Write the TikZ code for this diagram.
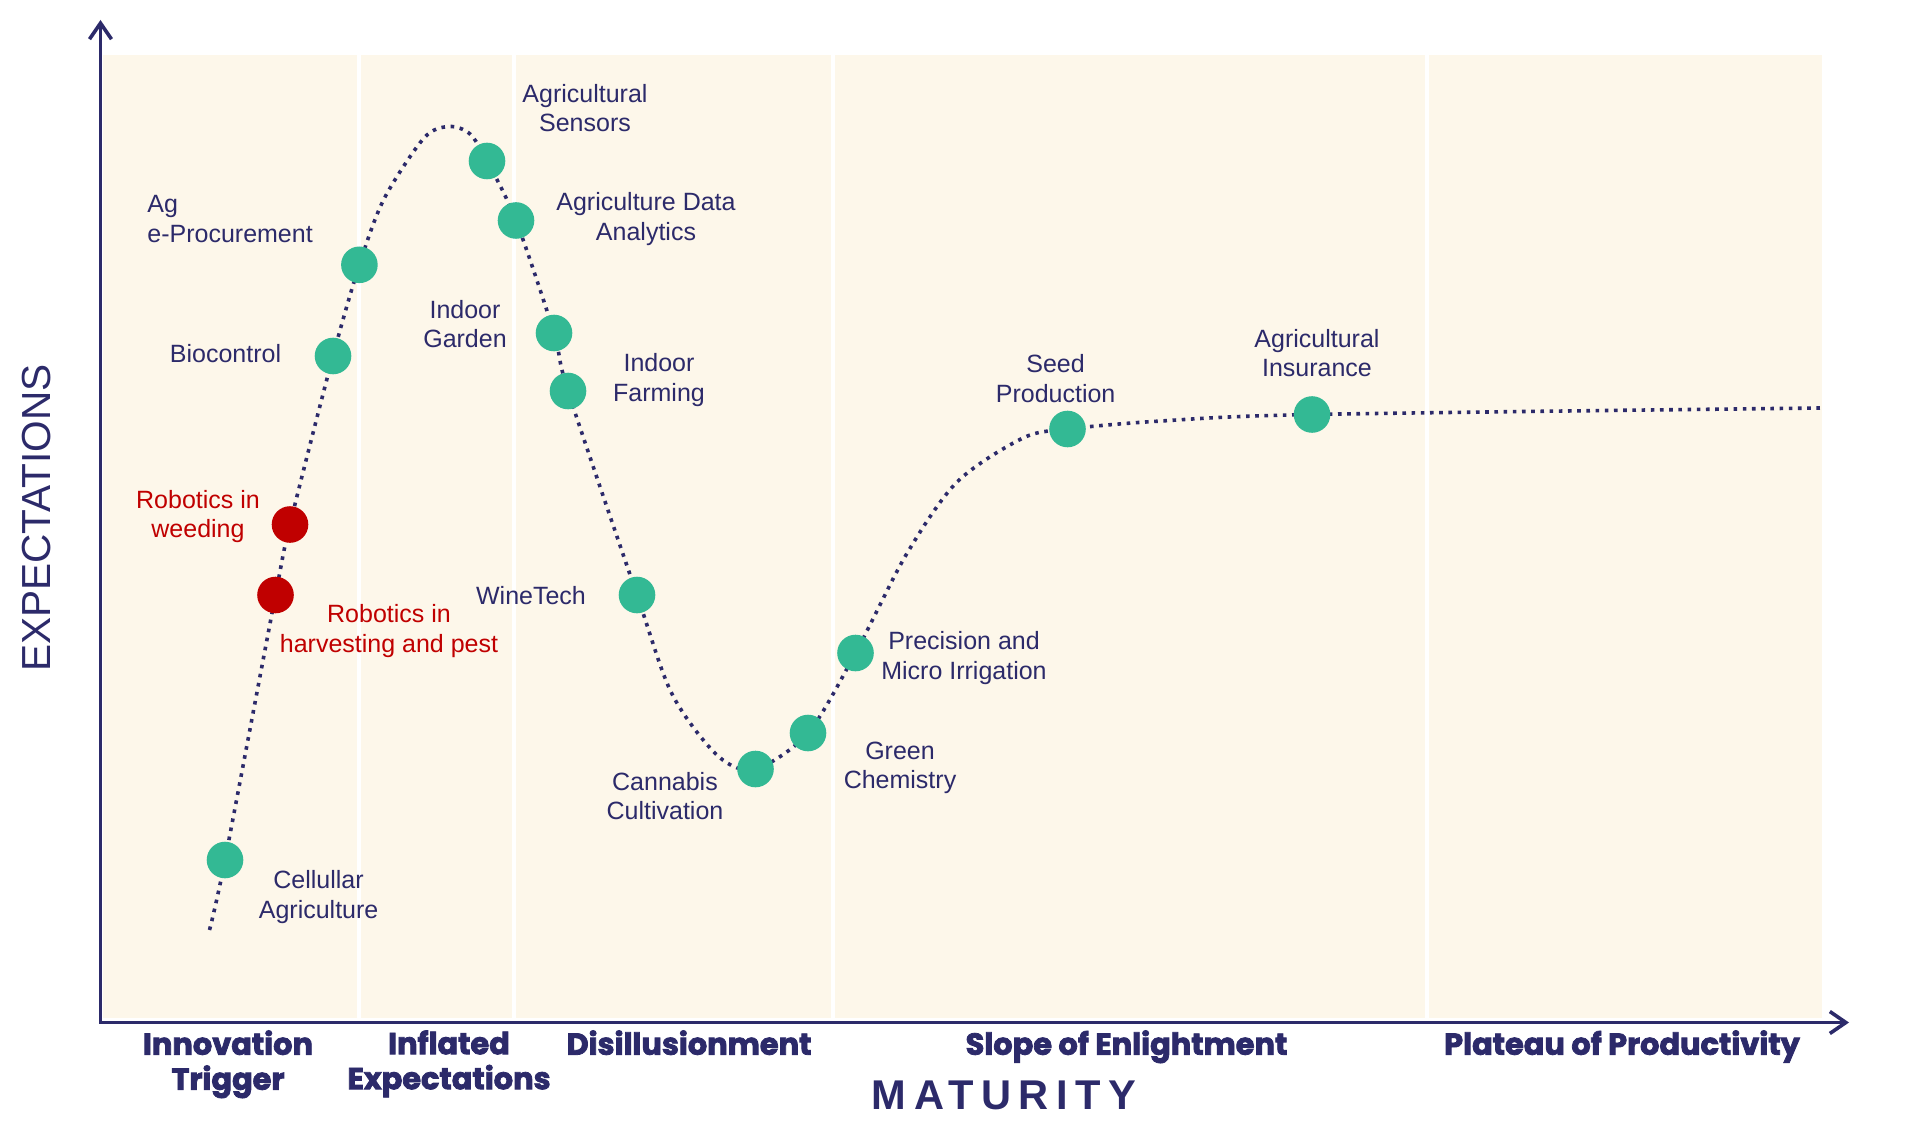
\documentclass[tikz,border=0pt]{standalone}
\usepackage{fontspec}
\setmainfont{Liberation Sans}
\newfontfamily\phasefont{Poppins}[BoldFeatures={FakeBold=2.6}]
\newfontfamily\spacedfont{Liberation Sans}[LetterSpace=18]
\usetikzlibrary{arrows.meta}

\begin{document}
\begin{tikzpicture}[x=0.5pt, y=-0.5pt,
    tag/.style={align=center, inner sep=0pt, text=navy, font=\fontsize{12.5}{14.7}\selectfont},
    redtag/.style={tag, text=hotred},
    phase/.style={anchor=north, inner sep=0pt, align=center, text=navy, font=\phasefont\bfseries\fontsize{15.2}{17.5}\selectfont},
    hype/.style={draw=navy, line width=1.8pt, dash pattern=on 1.8pt off 2.8pt},
    axis/.style={draw=navy, line width=1.6pt, line join=miter, {Straight Barb[length=8pt, width=11pt, line width=1.8pt]}-{Straight Barb[length=8pt, width=11pt, line width=1.8pt]}},
  ]

\definecolor{navy}{RGB}{44, 42, 106}
\definecolor{techgreen}{RGB}{51, 185, 148}
\definecolor{hotred}{RGB}{192, 0, 0}
\definecolor{paper}{RGB}{253, 247, 234}

\useasboundingbox (0,0) rectangle (1920,1144);

%phase bands
\fill[paper] (103,55) rectangle (1822,1018);
\foreach \x in {359, 514, 833, 1427}
{
	\draw[white, line width=2pt] (\x,55) -- (\x,1018);
}

%axes
\coordinate (ytop) at (100.5,20);
\coordinate (origin) at (100.5,1022.5);
\coordinate (xend) at (1849,1022.5);
\draw[axis] (ytop) -- (origin) -- (xend);

%technologies on the curve
\foreach \n/\x/\y in {cell/225/860, harv/275.5/595, weed/290/524.5, bio/333/356, agep/359.4/264.8,
	sens/487/161, data/516/220.5, garden/554/333, farm/568/391, wine/637/595,
	cann/755.5/769, green/808/733, prec/855.5/653, seed/1067.5/429, insur/1312/414.5}
{
	\coordinate (\n) at (\x,\y);
}
\coordinate (hypestart) at (209.5,930);
\coordinate (hypeend) at (1820,408);

%hype curve
\draw[hype] plot[smooth, tension=0.5] coordinates {(hypestart) (cell) (harv) (weed) (bio) (agep)
	(384,199) (424,138) (449,126.5) (470,134) (sens) (data) (garden) (farm) (wine)
	(672,694) (718,756) (cann) (green) (prec) (906,555) (957,482) (1023,438) (seed)
	(1161,421) (insur) (hypeend)};

\foreach \n in {cell, bio, agep, sens, data, garden, farm, wine, cann, green, prec, seed, insur}
{
	\fill[techgreen] (\n) circle[radius=9.15pt];
}
\foreach \n in {harv, weed}
{
	\fill[hotred] (\n) circle[radius=9.15pt];
}

%labels
\node[tag] (sens-l) at (585,108) {Agricultural\\Sensors};
\node[tag] (data-l) at (646,219) {Agriculture Data\\Analytics};
\node[tag, align=left, anchor=west] (agep-l) at (147,219) {Ag\\e-Procurement};
\node[tag] (garden-l) at (465,324) {Indoor\\Garden};
\node[tag] (bio-l) at (225.5,354) {Biocontrol};
\node[tag] (farm-l) at (659,380) {Indoor\\Farming};
\node[redtag] (weed-l) at (198,516.5) {Robotics in\\weeding};
\node[tag] (wine-l) at (531,596) {WineTech};
\node[redtag] (harv-l) at (389,631) {Robotics in\\harvesting and pest};
\node[tag] (prec-l) at (964,658) {Precision and\\Micro Irrigation};
\node[tag] (green-l) at (900,768) {Green\\Chemistry};
\node[tag] (cann-l) at (665,796) {Cannabis\\Cultivation};
\node[tag] (cell-l) at (318.6,897) {Cellullar\\Agriculture};
\node[tag] (seed-l) at (1055.6,378.5) {Seed\\Production};
\node[tag] (insur-l) at (1317,353) {Agricultural\\Insurance};

%phases
\node[phase] (trigger) at (228,1030) {Innovation\\Trigger};
\node[phase] (inflated) at (449,1030) {Inflated\\Expectations};
\node[phase] (trough) at (689,1030) {Disillusionment};
\node[phase] (slope) at (1126.5,1030) {Slope of Enlightment};
\node[phase] (plateau) at (1622,1030) {Plateau of Productivity};

\node[text=navy, font=\spacedfont\bfseries\fontsize{20.8}{24}\selectfont] (maturity) at (1004,1095) {MATURITY};
\node[text=navy, rotate=90, font=\fontsize{20.3}{24}\selectfont] (expect) at (37,518) {EXPECTATIONS};

\end{tikzpicture}
\end{document}
